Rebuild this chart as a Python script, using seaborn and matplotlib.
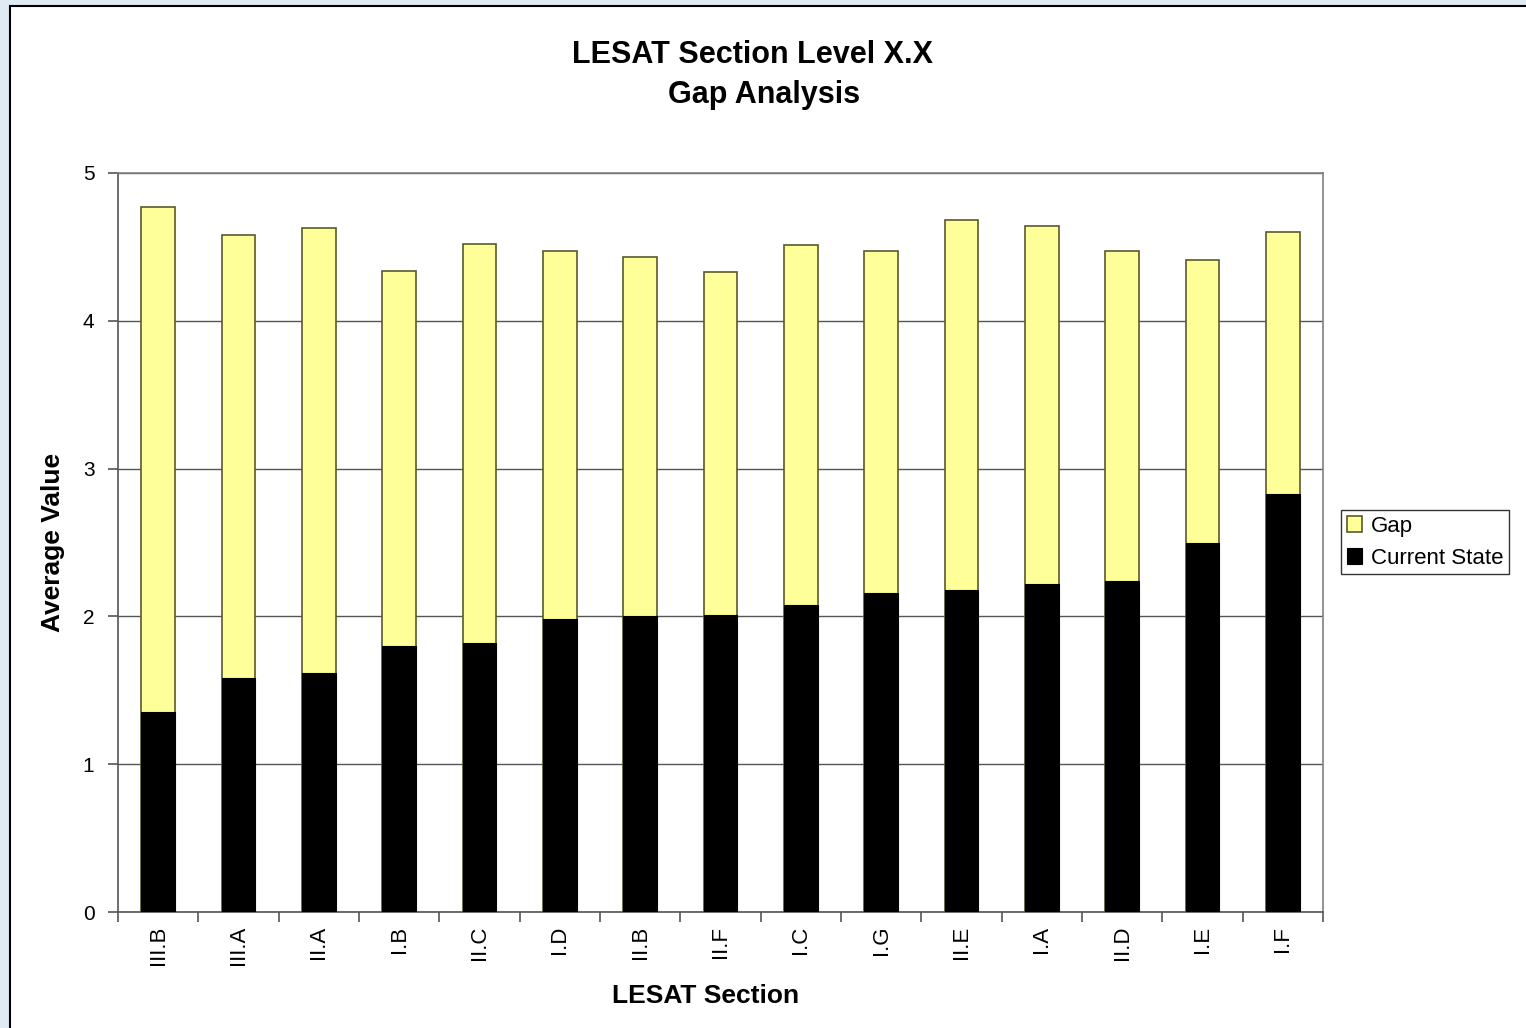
import numpy as np
import pandas as pd
import matplotlib
matplotlib.use("Agg")
import matplotlib.pyplot as plt
from matplotlib.patches import Rectangle
import seaborn as sns

# Data
sections = ['III.B', 'III.A', 'II.A', 'I.B', 'II.C', 'I.D', 'II.B', 'II.F',
            'I.C', 'I.G', 'II.E', 'I.A', 'II.D', 'I.E', 'I.F']
current_state = [1.35, 1.58, 1.62, 1.80, 1.82, 1.98, 2.00, 2.01,
                 2.08, 2.16, 2.18, 2.22, 2.24, 2.50, 2.83]
total_target = [4.77, 4.58, 4.63, 4.34, 4.52, 4.47, 4.43, 4.33,
                4.51, 4.47, 4.68, 4.64, 4.47, 4.41, 4.60]
gap = [t - c for t, c in zip(total_target, current_state)]

df = pd.DataFrame({"section": sections, "current": current_state,
                   "gap": gap, "total": total_target})

sns.set_style("white")
plt.rcParams['font.family'] = ['Liberation Sans', 'DejaVu Sans']
plt.rcParams['text.color'] = 'black'
plt.rcParams['axes.labelcolor'] = 'black'
plt.rcParams['xtick.color'] = 'black'
plt.rcParams['ytick.color'] = 'black'

fig = plt.figure(figsize=(15.26, 10.28), dpi=100)
fig.patch.set_facecolor("#dfeaf3")
# white chart panel with black border running off the right/bottom edges
fig.patches.append(Rectangle((10 / 1526, -0.05), 1.1, 1 - 6 / 1028 + 0.05,
                             transform=fig.transFigure, facecolor="white",
                             edgecolor="black", linewidth=1.5, zorder=-1))

ax = fig.add_axes([118 / 1526, 116 / 1028, 1205 / 1526, 739 / 1028])
ax.set_zorder(1)
ax.set_facecolor("white")

# total bar (gap on top) drawn first, then current state over it
sns.barplot(data=df, x="section", y="total", color="#FFFF99", width=0.42,
            edgecolor="#5a5a2a", linewidth=1.2, saturation=1, ax=ax,
            label="Gap", zorder=2)
sns.barplot(data=df, x="section", y="current", color="black", width=0.42,
            edgecolor="black", linewidth=0.8, saturation=1, ax=ax,
            label="Current State", zorder=3)
handles, labels = ax.get_legend_handles_labels()
if ax.get_legend() is not None:
    ax.get_legend().remove()

ax.set_ylim(0, 5)
ax.set_xlim(-0.5, len(sections) - 0.5)
ax.set_yticks([0, 1, 2, 3, 4, 5])
ax.yaxis.grid(True, color="#555555", linewidth=1)
ax.set_axisbelow(True)

for s in ax.spines.values():
    s.set_color("#808080")
    s.set_linewidth(1.2)
ax.spines['left'].set_color("#555555")
ax.spines['bottom'].set_color("#555555")

ax.tick_params(axis="y", direction="out", length=7, width=1.2,
               color="#555555", labelsize=15, pad=10, left=True)
ax.set_xticks(range(len(sections)))
ax.set_xticklabels(sections, rotation=90, fontsize=16)
ax.set_xticks(np.arange(-0.5, len(sections)), minor=True)
ax.tick_params(axis="x", which="major", length=0, pad=10)
ax.tick_params(axis="x", which="minor", direction="out", length=7,
               width=1.2, color="#555555", bottom=True)

ax.set_xlabel("LESAT Section", fontsize=19, fontweight="bold")
ax.xaxis.set_label_coords(0.488, -0.097)
ax.set_ylabel("Average Value", fontsize=19, fontweight="bold")
ax.yaxis.set_label_coords(-0.044, 0.5)

fig.text(752 / 1526, 1 - 55 / 1028, "LESAT Section Level X.X",
         ha="center", va="center", fontsize=22, fontweight="bold")
fig.text(764 / 1526, 1 - 95 / 1028, "Gap Analysis",
         ha="center", va="center", fontsize=22, fontweight="bold")

leg = fig.legend(handles, labels, loc="upper left",
                 bbox_to_anchor=(1341 / 1526, 1 - 510 / 1028),
                 fontsize=16, frameon=True, fancybox=False,
                 handlelength=0.7, handleheight=0.7, handletextpad=0.4,
                 borderpad=0.25, labelspacing=0.5, borderaxespad=0)
leg.get_frame().set_edgecolor("black")
leg.get_frame().set_linewidth(1)

fig.savefig("out.png", dpi=100, facecolor=fig.get_facecolor())
